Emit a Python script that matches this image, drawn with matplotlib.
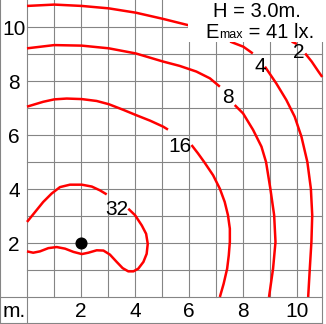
import matplotlib
matplotlib.use("Agg")
import matplotlib.pyplot as plt
from matplotlib.patches import Rectangle

plt.rcParams["font.family"] = ["Liberation Sans", "DejaVu Sans"]

RED = "#ff0000"
GRID = "#858585"

# iso-lux curves (x, y in m); each curve is a list of segments,
# broken where the level label sits
curve_32 = [
    [(0.0, 2.78), (0.30, 3.15), (0.60, 3.52), (0.91, 3.83), (1.22, 4.07),
     (1.59, 4.16), (2.03, 4.16), (2.40, 4.09), (2.70, 3.95), (2.95, 3.80)],
    [(3.75, 3.27), (4.00, 3.03), (4.25, 2.65), (4.41, 2.34), (4.47, 1.97),
     (4.43, 1.60), (4.31, 1.30), (4.12, 1.05), (3.94, 0.95), (3.75, 0.95),
     (3.54, 1.07), (3.32, 1.30), (3.07, 1.57), (2.83, 1.72), (2.58, 1.73),
     (2.27, 1.64), (2.03, 1.59), (1.72, 1.67), (1.41, 1.79), (1.10, 1.85),
     (0.79, 1.81), (0.48, 1.69), (0.23, 1.64), (0.0, 1.69)],
]
curve_16 = [
    [(0.0, 7.05), (0.60, 7.23), (1.01, 7.32), (1.47, 7.35), (2.03, 7.33),
     (2.58, 7.26), (3.03, 7.14), (3.57, 6.93), (4.03, 6.74), (4.56, 6.53),
     (5.04, 6.31), (5.22, 6.20)],
    [(6.09, 5.63), (6.33, 5.32), (6.56, 5.00), (6.89, 4.51), (7.14, 4.01),
     (7.32, 3.52), (7.44, 3.03), (7.51, 2.53), (7.51, 2.04), (7.47, 1.54),
     (7.41, 1.05), (7.28, 0.49), (7.14, 0.0)],
]
curve_8 = [
    [(0.0, 9.21), (1.01, 9.33), (2.03, 9.31), (3.03, 9.21), (4.03, 9.02),
     (5.04, 8.72), (5.65, 8.56), (6.27, 8.35), (6.77, 8.10), (7.14, 7.79)],
    [(7.69, 7.11), (8.00, 6.80), (8.37, 6.19), (8.68, 5.57), (8.85, 5.00),
     (9.01, 4.01), (9.15, 3.03), (9.20, 2.04), (9.11, 1.05), (8.96, 0.0)],
]
curve_4 = [
    [(0.0, 10.78), (1.01, 10.83), (2.03, 10.78), (3.03, 10.69),
     (4.03, 10.53), (5.04, 10.30), (6.0, 10.06)],
    [(7.52, 9.46), (8.01, 9.27), (8.36, 9.02)],
    [(8.81, 8.53), (9.23, 7.91), (9.60, 7.30), (9.91, 6.68), (10.16, 5.94),
     (10.38, 5.00), (10.51, 4.01), (10.56, 3.03), (10.53, 2.04),
     (10.47, 1.05), (10.41, 0.0)],
]
curve_2 = [
    [(9.80, 9.46), (9.99, 9.37)],
    [(10.30, 9.02), (10.54, 8.72), (10.79, 8.35), (10.93, 8.15)],
]
curves = [curve_2, curve_4, curve_8, curve_16, curve_32]

level_text = ["2", "4", "8", "16", "32"]
level_x = [10.07, 8.62, 7.44, 5.67, 3.31]
level_y = [8.85, 8.33, 7.19, 5.37, 3.04]   # baselines

luminaire_x = [2.0]
luminaire_y = [2.0]

tick_vals = [2, 4, 6, 8, 10]

fig = plt.figure(figsize=(3.26, 3.24), dpi=100)
ax = fig.add_axes([0, 0, 1, 1])
ax.set_xlim(-1.0, 11.07)
ax.set_ylim(-1.0, 11.0)
ax.axis("off")

X_END = 10.93

# grid — x=0 and y=0 run through the label strips
for xv in range(0, 11):
    ax.plot([xv, xv], [-1.0 if xv == 0 else 0.0, 11.0], color=GRID, lw=0.8, zorder=1)
for yv in range(0, 11):
    ax.plot([-1.0 if yv == 0 else 0.0, X_END], [yv, yv], color=GRID, lw=0.8, zorder=1)
# outer frame
ax.plot([-0.985, -0.985], [-1.0, 11.0], color=GRID, lw=0.8, zorder=1)
ax.plot([-1.0, X_END], [-0.975, -0.975], color=GRID, lw=0.8, zorder=1)
ax.plot([X_END, X_END], [-1.0, 11.0], color=GRID, lw=0.8, zorder=1)

for curve in curves:
    for seg in curve:
        xs = [p[0] for p in seg]
        ys = [p[1] for p in seg]
        ax.plot(xs, ys, color=RED, lw=1.8, solid_capstyle="butt", zorder=3)

for t, lx, ly in zip(level_text, level_x, level_y):
    ax.text(lx, ly, t, ha="center", va="baseline", fontsize=15, zorder=5)

ax.plot(luminaire_x, luminaire_y, "o", color="black", ms=7.7, zorder=4)

# tick labels
for v in tick_vals:
    ax.text(-0.48, v - 0.28, str(v), ha="center", va="baseline", fontsize=15)
    ax.text(v, -0.73, str(v), ha="center", va="baseline", fontsize=15)
ax.text(-0.48, -0.73, "m.", ha="center", va="baseline", fontsize=15)

# info box, top right
ax.add_patch(Rectangle((5.97, 9.44), X_END - 5.97 + 0.2, 2.0,
                       facecolor="white", edgecolor="none", zorder=4))
ax.text(8.52, 10.38, "H = 3.0m.", ha="center", va="baseline", fontsize=14.5, zorder=6)
t_e = ax.text(6.62, 9.59, "E", ha="left", va="baseline", fontsize=14.5, zorder=6)
t_m = ax.annotate("max", xy=(1, 9.59), xycoords=(t_e, "data"),
                  ha="left", va="baseline", fontsize=9, zorder=6)
ax.annotate(" = 41 lx.", xy=(1, 9.59), xycoords=(t_m, "data"),
            ha="left", va="baseline", fontsize=14.5, zorder=6)

fig.savefig("out.png", dpi=100, facecolor="white")
